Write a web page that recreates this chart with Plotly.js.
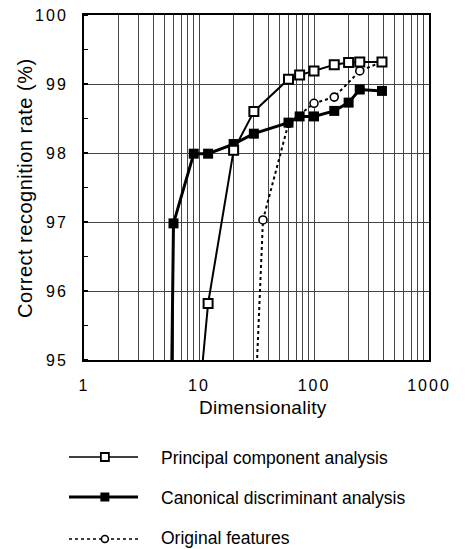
<!DOCTYPE html>
<html>
<head>
<meta charset="utf-8">
<script src="https://cdn.plot.ly/plotly-3.0.1.min.js"></script>
<style>
  html, body { margin: 0; padding: 0; background: #fff; }
  #chart { width: 466px; height: 549px; }
  .xtick text, .ytick text { letter-spacing: 2px; }
  .annotation[data-index="0"] text { letter-spacing: 0.3px; }
  .annotation[data-index="1"] text { letter-spacing: 0.5px; }
</style>
</head>
<body>
<div id="chart"></div>
<script>
// ---- data ----
const pcaX  = [10, 12, 20, 30, 60, 75, 100, 150, 200, 250, 390];
const pcaY  = [94.4, 95.82, 98.04, 98.60, 99.07, 99.13, 99.19, 99.28, 99.31, 99.32, 99.32];

const cdaX  = [5, 6, 9, 12, 20, 30, 60, 75, 100, 150, 200, 250, 390];
const cdaY  = [86, 96.98, 97.99, 97.99, 98.13, 98.28, 98.44, 98.53, 98.53, 98.61, 98.73, 98.92, 98.90];

const origX = [30, 36, 60, 100, 150, 250, 390];
const origY = [93.9, 97.03, 98.43, 98.72, 98.81, 99.19, 99.32];

const seriesNames = ['Principal component analysis', 'Canonical discriminant analysis', 'Original features'];
const xTickVals = [1,2,3,4,5,6,7,8,9,10,20,30,40,50,60,70,80,90,100,200,300,400,500,600,700,800,900,1000];
const xTickText = xTickVals.map(v => [1,10,100,1000].includes(v) ? String(v) : '');
const yTickVals = [95, 96, 97, 98, 99, 100];
const xTitle = 'Dimensionality';
const yTitle = 'Correct recognition rate (%)';

// ---- styles ----
const FONT = '"Liberation Sans", Arial, Helvetica, sans-serif';
const pcaStyle  = {line:{color:'#000', width:2}, marker:{symbol:'square', size:9, color:'#fff', line:{width:2, color:'#000'}}};
const cdaStyle  = {line:{color:'#000', width:3}, marker:{symbol:'square', size:10, color:'#000'}};
const origStyle = {line:{color:'#000', width:2, dash:'dot'}, marker:{symbol:'circle', size:8, color:'#fff', line:{width:1.6, color:'#000'}}};

const traces = [
  {x: origX, y: origY, mode:'lines+markers', name: seriesNames[2], line: origStyle.line, marker: origStyle.marker},
  {x: cdaX,  y: cdaY,  mode:'lines+markers', name: seriesNames[1], line: cdaStyle.line,  marker: cdaStyle.marker},
  {x: pcaX,  y: pcaY,  mode:'lines+markers', name: seriesNames[0], line: pcaStyle.line,  marker: pcaStyle.marker},
];

// ---- custom legend drawn on hidden axes ----
const W = 466, H = 549, ML = 10, MR = 37, MT = 15, MB = 0;
const PW = W - ML - MR, PH = H - MT - MB;
const px2x = p => (p - ML) / PW;
const px2y = p => (H - MB - p) / PH;
const legRowsPx = [457, 497, 539];
const legDomainY = [0, 0.2];
const rowVal = p => (px2y(p) - legDomainY[0]) / (legDomainY[1] - legDomainY[0]);
const legStyles = [
  {line:{color:'#000', width:1.6}, marker:{symbol:'square', size:8, color:'#fff', line:{width:1.8, color:'#000'}}},
  {line:{color:'#000', width:3}, marker:{symbol:'square', size:9, color:'#000'}},
  {line:{color:'#000', width:1.6, dash:'dot'}, marker:{symbol:'circle', size:7, color:'#fff', line:{width:1.6, color:'#000'}}},
];
legStyles.forEach((s, i) => {
  const r = rowVal(legRowsPx[i]);
  traces.push({x:[0,1], y:[r,r], xaxis:'x2', yaxis:'y2', mode:'lines', line:s.line, cliponaxis:false, hoverinfo:'skip'});
  traces.push({x:[0.52], y:[r], xaxis:'x2', yaxis:'y2', mode:'markers', marker:s.marker, cliponaxis:false, hoverinfo:'skip'});
});

const annotations = [
  {text: xTitle, xref:'paper', yref:'paper', x: px2x(263), y: px2y(407), xanchor:'center', yanchor:'middle', showarrow:false, font:{size:19, family:FONT, color:'#000'}},
  {text: yTitle, xref:'paper', yref:'paper', x: px2x(25), y: px2y(188), xanchor:'center', yanchor:'middle', textangle:-90, showarrow:false, font:{size:20, family:FONT, color:'#000'}},
];
const legTextPx = [458, 498, 538];
seriesNames.forEach((n, i) => {
  annotations.push({text: n, xref:'paper', yref:'paper', x: px2x(159), y: px2y(legTextPx[i]), xanchor:'left', yanchor:'middle', showarrow:false, font:{size:17.5, family:FONT, color:'#000'}});
});

const layout = {
  width: W, height: H,
  margin: {l: ML, r: MR, t: MT, b: MB, pad: 0},
  paper_bgcolor: '#fff', plot_bgcolor: '#fff',
  showlegend: false,
  font: {family: FONT, color: '#000'},
  xaxis: {
    type: 'log', range: [0, 3], domain: [px2x(84), 1], anchor: 'y',
    tickmode: 'array', tickvals: xTickVals, ticktext: xTickText,
    showgrid: true, gridcolor: '#444', gridwidth: 1,
    showline: true, mirror: true, linecolor: '#000', linewidth: 2,
    ticks: '', zeroline: false, tickfont: {size: 16, family: FONT, color:'#000'},
    ticklabelstandoff: 10, fixedrange: true
  },
  yaxis: {
    range: [95, 100], domain: [px2y(360), 1], anchor: 'x',
    tickmode: 'array', tickvals: yTickVals,
    showgrid: true, gridcolor: '#444', gridwidth: 1,
    showline: true, mirror: true, linecolor: '#000', linewidth: 2,
    ticks: '', zeroline: false, tickfont: {size: 16, family: FONT, color:'#000'},
    ticklabelstandoff: 11, fixedrange: true,
    minor: {dtick: 0.5, tick0: 95, ticks: 'inside', ticklen: 4, tickcolor: '#000', tickwidth: 1.5, showgrid: false}
  },
  xaxis2: {domain: [px2x(69), px2x(138)], range: [0, 1], visible: false, anchor: 'y2', fixedrange: true},
  yaxis2: {domain: legDomainY, range: [0, 1], visible: false, anchor: 'x2', fixedrange: true},
  annotations: annotations
};

Plotly.newPlot('chart', traces, layout, {staticPlot: true, displayModeBar: false});
</script>
</body>
</html>
